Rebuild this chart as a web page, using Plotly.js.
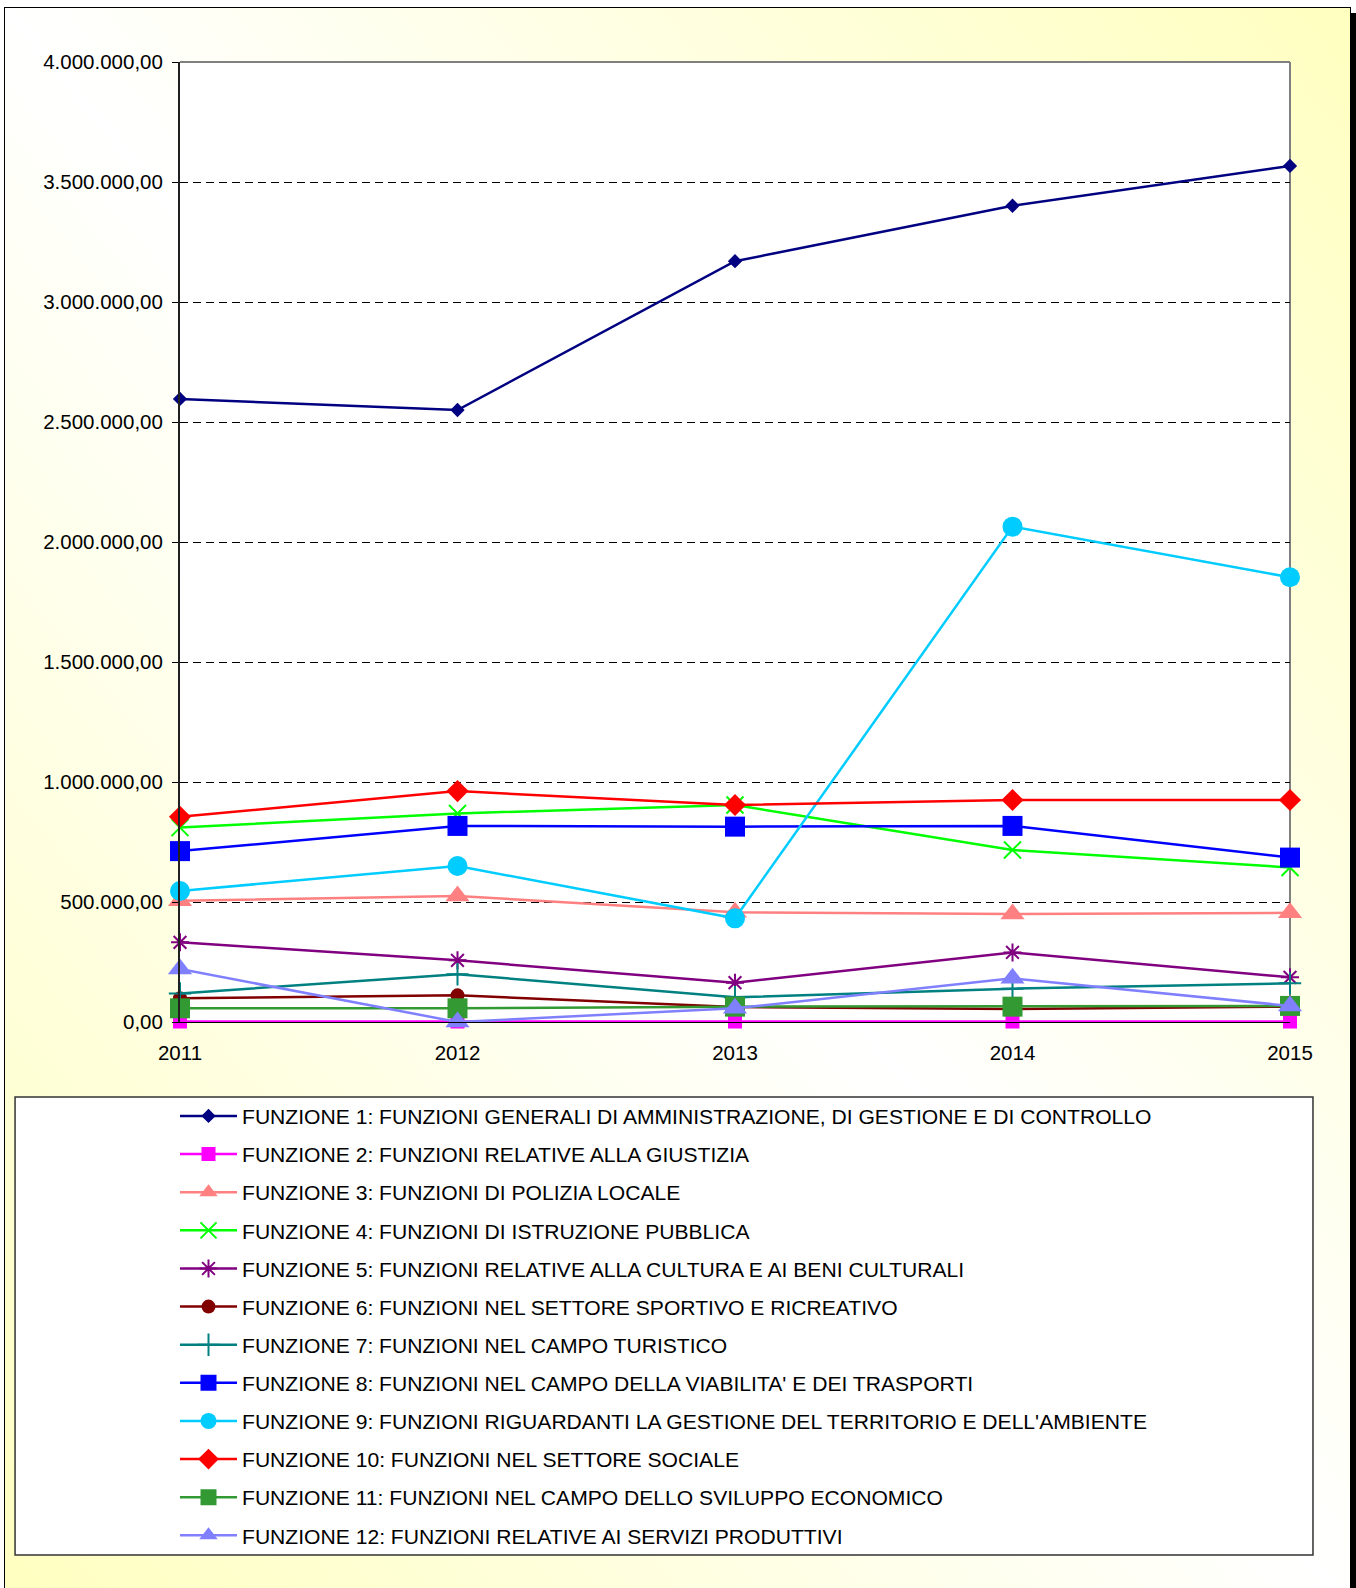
<!DOCTYPE html>
<html><head><meta charset="utf-8">
<script src="https://cdn.plot.ly/plotly-3.0.1.min.js"></script>
<style>
html,body{margin:0;padding:0;background:#fff;width:1356px;height:1588px;overflow:hidden;}
#frame{position:absolute;left:4px;top:7px;width:1345px;height:1600px;border:1px solid #000;box-shadow:6px 6px 0 #000;background:linear-gradient(to top right,#FFFFC0 0%,#FFFFFF 50%,#FFFFC0 100%);}
#chart{position:absolute;left:0;top:0;width:1356px;height:1588px;}
</style></head><body><div id="frame"></div><div id="chart"></div>
<script>
const years = [2011, 2012, 2013, 2014, 2015];
const yearLabels = ["2011", "2012", "2013", "2014", "2015"];
const names = [
  "FUNZIONE 1: FUNZIONI GENERALI DI AMMINISTRAZIONE, DI GESTIONE E DI CONTROLLO",
  "FUNZIONE 2: FUNZIONI RELATIVE ALLA GIUSTIZIA",
  "FUNZIONE 3: FUNZIONI DI POLIZIA LOCALE",
  "FUNZIONE 4: FUNZIONI DI ISTRUZIONE PUBBLICA",
  "FUNZIONE 5: FUNZIONI RELATIVE ALLA CULTURA E AI BENI CULTURALI",
  "FUNZIONE 6: FUNZIONI NEL SETTORE SPORTIVO E RICREATIVO",
  "FUNZIONE 7: FUNZIONI NEL CAMPO TURISTICO",
  "FUNZIONE 8: FUNZIONI NEL CAMPO DELLA VIABILITA' E DEI TRASPORTI",
  "FUNZIONE 9: FUNZIONI RIGUARDANTI LA GESTIONE DEL TERRITORIO E DELL'AMBIENTE",
  "FUNZIONE 10: FUNZIONI NEL SETTORE SOCIALE",
  "FUNZIONE 11: FUNZIONI NEL CAMPO DELLO SVILUPPO ECONOMICO",
  "FUNZIONE 12: FUNZIONI RELATIVE AI SERVIZI PRODUTTIVI"
];
const f1  = [2596000, 2550000, 3170000, 3401000, 3567000];
const f2  = [2000, 2000, 2000, 2000, 2000];
const f3  = [505000, 525000, 457000, 450000, 455000];
const f4  = [810000, 869000, 904000, 717000, 644000];
const f5  = [332000, 257000, 164000, 290000, 186000];
const f6  = [99000, 111000, 62000, 54000, 64000];
const f7  = [119000, 199000, 103000, 139000, 161000];
const f8  = [712000, 817000, 814000, 817000, 685000];
const f9  = [546000, 650000, 432000, 2064000, 1853000];
const f10 = [855000, 962000, 904000, 925000, 925000];
const f11 = [57000, 57000, 64000, 64000, 67000];
const f12 = [221000, 0, 57000, 182000, 67000];
const series = [f1, f2, f3, f4, f5, f6, f7, f8, f9, f10, f11, f12];

const colors = ["#000080","#FF00FF","#FF8080","#00FF00","#800080","#800000","#008080","#0000FF","#00CCFF","#FF0000","#339933","#8080FF"];
const symbols = ["diamond","square","triangle-up","x-thin-open","asterisk-open","circle","cross-thin-open","square","circle","diamond","square","triangle-up"];
const sizes = [11, 14, 21, 17, 15, 14, 16, 20, 20, 17, 20, 21];

const traces = series.map((vals, i) => ({
  x: years, y: vals, name: names[i], type: "scatter", mode: "lines+markers",
  legendgroup: "g" + i, cliponaxis: false,
  line: {color: colors[i], width: 2.5},
  marker: {symbol: symbols[i], size: sizes[i], color: colors[i], line: {color: colors[i], width: symbols[i].includes("open") ? 2 : 0}}
}));

const layout = {
  width: 1356, height: 1588,
  margin: {l: 180, r: 66, t: 62, b: 566, pad: 0},
  paper_bgcolor: "rgba(0,0,0,0)", plot_bgcolor: "#FFFFFF",
  separators: ",.",
  font: {family: "Liberation Sans, Arial, sans-serif", color: "#000"},
  showlegend: true,
  xaxis: {range: [2011, 2015], tickvals: years, ticktext: yearLabels, showgrid: false, zeroline: false,
          showline: true, linecolor: "#000", linewidth: 1, ticks: "", ticklabelstandoff: 12,
          tickfont: {size: 20.5, color: "#000"}},
  yaxis: {range: [0, 4000000], dtick: 500000, tick0: 0, tickformat: ",.2f", showgrid: true, gridcolor: "#000",
          gridwidth: 1, griddash: "8px,5px", zeroline: false, showline: true, linecolor: "#202020", linewidth: 2,
          ticks: "outside", ticklen: 6, tickcolor: "#000", ticklabelstandoff: 5, tickfont: {size: 20.5, color: "#000"}},
  legend: {x: -0.0045, xanchor: "left", y: -0.0768, yanchor: "top", bgcolor: "rgba(0,0,0,0)", borderwidth: 0,
           tracegroupgap: 7.7, itemwidth: 57, font: {size: 21.1, color: "#000"}, traceorder: "grouped"},
  shapes: [
    {type: "rect", xref: "paper", yref: "paper", x0: -0.1486, x1: 1.0207, y0: -0.5552, y1: -0.0781,
     line: {color: "#333", width: 1.5}, fillcolor: "#FFFFFF", layer: "below"},
    {type: "line", xref: "paper", yref: "paper", x0: 0, x1: 1, y0: 1, y1: 1, line: {color: "#808080", width: 2}, layer: "below"},
    {type: "line", xref: "paper", yref: "paper", x0: 1, x1: 1, y0: 0, y1: 1, line: {color: "#808080", width: 2}, layer: "below"}
  ]
};
Plotly.newPlot("chart", traces, layout, {displayModeBar: false, staticPlot: true});
</script></body></html>
